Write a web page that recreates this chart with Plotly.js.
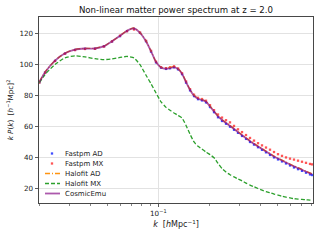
<!DOCTYPE html>
<html><head><meta charset="utf-8">
<script src="https://cdn.plot.ly/plotly-3.0.1.min.js"></script>
<style>html,body{margin:0;padding:0;background:#fff}#chart{width:320px;height:240px}</style>
</head><body><div id="chart"></div>
<script>
var k = [0.01995,0.02156,0.02468,0.02826,0.03236,0.03704,0.04241,0.04794,0.0534,0.05953,0.06545,0.07196,0.07804,0.08466,0.09059,0.09694,0.10373,0.1110,0.1172,0.1237,0.1306,0.1379,0.1456,0.1537,0.1622,0.1712,0.1807,0.1908,0.2014,0.2127,0.2245,0.2370,0.2502,0.2641,0.2788,0.2943,0.3108,0.3281,0.3463,0.3656,0.3860,0.4074,0.4300,0.4540,0.4793,0.5059,0.5341,0.5638,0.5953,0.6283,0.6635,0.7003,0.7393,0.7805,0.8019];
var fastpmAD = [88.4,94.8,102.3,107.0,109.4,110.1,110.2,111.7,114.8,118.3,121.6,123.0,120.4,115.0,108.3,101.3,97.9,97.1,97.5,98.1,96.8,93.7,88.2,83.2,79.5,77.5,76.7,75.4,72.4,69.1,65.8,63.4,61.6,59.7,57.7,55.7,53.7,51.8,49.8,48.1,46.4,44.7,43.1,41.4,39.8,38.5,37.2,35.9,34.6,33.3,32.2,31.1,29.9,28.8,28.4];
var fastpmMX = [88.3,94.6,102.2,107.0,109.3,110.0,110.1,111.6,114.9,118.6,121.5,122.6,120.6,115.3,108.8,101.8,98.2,97.6,98.2,98.8,97.4,94.3,89.0,84.0,80.4,78.4,77.6,76.5,73.6,70.4,67.6,65.6,63.9,62.5,60.2,58.0,56.2,54.3,52.4,50.7,49.0,47.6,46.2,44.8,43.3,41.9,40.8,39.8,39.0,38.4,37.7,37.0,36.3,35.6,35.3];
var halofitAD = [88.7,95.1,102.6,107.3,109.7,110.4,110.4,111.9,115.1,118.6,121.9,123.6,120.7,115.2,108.6,101.6,98.2,97.5,98.0,98.6,97.3,94.2,88.7,83.7,80.0,78.1,77.3,76.1,73.1,69.8,66.6,64.3,62.4,60.5,58.5,56.5,54.5,52.6,50.6,48.9,47.2,45.5,43.9,42.3,40.7,39.4,38.1,36.8,35.5,34.3,33.2,32.1,30.9,29.8,29.3];
var halofitMX = [88.2,93.5,100.0,104.3,105.6,104.9,103.7,103.1,103.6,104.5,105.2,104.2,99.8,93.0,87.5,81.5,75.8,72.2,70.3,68.6,67.0,65.3,60.5,54.8,49.8,47.0,45.2,43.2,41.6,39.6,36.0,32.6,30.3,28.6,27.2,25.9,24.6,23.2,21.9,20.8,19.7,18.6,17.7,16.9,16.1,15.4,14.7,14.1,13.6,13.1,12.8,12.6,12.4,12.2,12.1];
var cosmicEmu = [88.6,95.0,102.5,107.2,109.6,110.3,110.3,111.8,115.0,118.5,121.8,123.4,120.5,115.0,108.5,101.5,98.0,97.2,97.6,98.3,97.0,94.0,88.5,83.5,79.8,77.8,77.0,75.8,72.8,69.5,66.3,64.0,62.1,60.2,58.2,56.2,54.2,52.3,50.3,48.6,46.9,45.2,43.6,42.0,40.4,39.1,37.8,36.5,35.2,34.0,32.9,31.8,30.6,29.5,29.0];
var seriesNames = ['Fastpm AD','Fastpm MX','Halofit AD','Halofit MX','CosmicEmu'];
var yTicks = [20,40,60,80,100,120];
var xMajor = [0.1];
var xMajorText = ['10<sup>−1</sup>'];
var xMinor = [0.02,0.03,0.04,0.05,0.06,0.07,0.08,0.09,0.2,0.3,0.4,0.5,0.6,0.7,0.8];

var FONT = 'DejaVu Sans, sans-serif';
var traces = [
  {x:k, y:fastpmAD, name:seriesNames[0], mode:'markers', type:'scatter',
   marker:{color:'#1f2fff', size:2.3, symbol:'square', opacity:0.85}},
  {x:k, y:fastpmMX, name:seriesNames[1], mode:'markers', type:'scatter',
   marker:{color:'#ff2a2a', size:2.3, symbol:'square', opacity:0.8}},
  {x:k, y:halofitAD, name:seriesNames[2], mode:'lines', type:'scatter',
   line:{color:'#ff9410', width:1.3, dash:'5px,2px,1px,2px', shape:'spline', smoothing:0.5}},
  {x:k, y:halofitMX, name:seriesNames[3], mode:'lines', type:'scatter',
   line:{color:'#2ca02c', width:1.3, dash:'4px,2px', shape:'spline', smoothing:0.5}},
  {x:k, y:cosmicEmu, name:seriesNames[4], mode:'lines', type:'scatter',
   line:{color:'rgba(128,0,128,0.65)', width:1.8, shape:'spline', smoothing:0.5}}
];
var layout = {
  width:320, height:240,
  margin:{l:39, r:7, t:17, b:37, pad:0},
  paper_bgcolor:'#fff', plot_bgcolor:'#fff',
  font:{family:FONT, size:7.2, color:'#222'},
  title:{text:'Non-linear matter power spectrum at z = 2.0', font:{family:FONT, size:8.6, color:'#111'},
         x:0.5, xref:'paper', xanchor:'center', y:0.958, yref:'container', yanchor:'middle'},
  xaxis:{type:'log', range:[-1.702,-0.090], tickmode:'array', tickvals:xMajor, ticktext:xMajorText,
         automargin:false,
         ticks:'outside', ticklen:3.5, tickwidth:0.8, tickcolor:'#333',
         showgrid:true, gridcolor:'#e2e2e2', gridwidth:1,
         showline:true, linecolor:'#333', linewidth:0.9, mirror:true, zeroline:false,
         tickfont:{family:FONT, size:7.2, color:'#222'},
         minor:{tickmode:'array', tickvals:xMinor, ticks:'outside', ticklen:2, tickwidth:0.6, tickcolor:'#333', showgrid:false},
         title:{text:'<i>k</i>  [<i>h</i>Mpc<sup>−1</sup>]', font:{family:FONT, size:8, color:'#222'}, standoff:4}},
  yaxis:{range:[10.3,130.7], tickmode:'array', tickvals:yTicks,
         automargin:false,
         ticks:'outside', ticklen:3.5, tickwidth:0.8, tickcolor:'#333',
         showgrid:true, gridcolor:'#e2e2e2', gridwidth:1,
         showline:true, linecolor:'#333', linewidth:0.9, mirror:true, zeroline:false,
         tickfont:{family:FONT, size:7.2, color:'#222'},
         title:{text:'<i>k P</i>(<i>k</i>)  [<i>h</i><sup>−1</sup>Mpc]<sup>2</sup>', font:{family:FONT, size:7.2, color:'#222'}, standoff:4}},
  showlegend:true,
  legend:{x:0.0, y:0.0, xanchor:'left', yanchor:'bottom', bgcolor:'rgba(0,0,0,0)', borderwidth:0,
          font:{family:FONT, size:7, color:'#222'}, tracegroupgap:0}
};
Plotly.newPlot('chart', traces, layout, {staticPlot:true, displayModeBar:false}).then(function(gd){
  var leg = gd.querySelector('.legend');
  if(!leg) return;
  var lm = /translate\(\s*([-\d.]+)[ ,]+([-\d.]+)\s*\)/.exec(leg.getAttribute('transform')||'');
  var lx = lm ? parseFloat(lm[1]) : 0, ly = lm ? parseFloat(lm[2]) : 0;
  var items = leg.querySelectorAll('g.traces');
  items.forEach(function(g,i){
    g.setAttribute('transform','translate('+(40-lx)+','+(153.5-ly+i*10)+')');
    g.querySelectorAll('.legendlines path').forEach(function(p){p.setAttribute('d','M5,0h15');});
    g.querySelectorAll('.legendpoints path').forEach(function(p){p.setAttribute('transform','translate(12,0)');});
    var t = g.querySelector('text.legendtext');
    if(t){ t.setAttribute('x', 25); t.querySelectorAll('tspan').forEach(function(s){ if(s.hasAttribute('x')) s.setAttribute('x',25); }); }
  });
});
</script>
</body></html>
